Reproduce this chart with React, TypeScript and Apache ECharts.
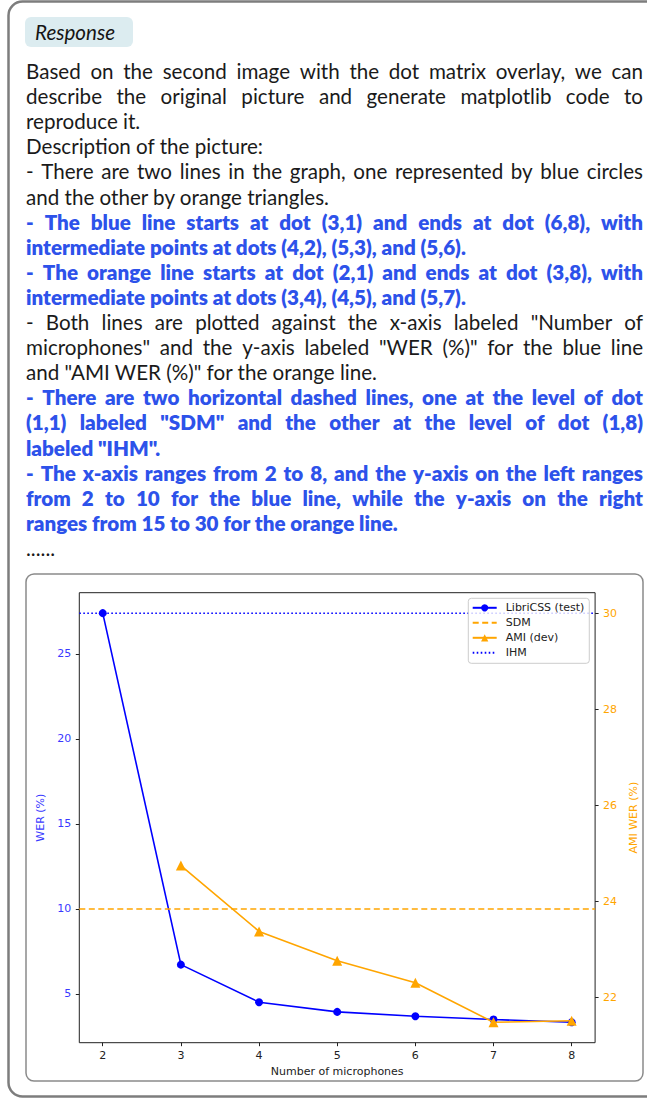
import React, { useEffect, useRef } from "react";
import * as echarts from "echarts";

// ---- chart data ----
const micCounts = [2, 3, 4, 5, 6, 7, 8];
const libriWer = [27.4, 6.72, 4.51, 3.94, 3.68, 3.49, 3.33];
const amiMics = [3, 4, 5, 6, 7, 8];
const amiWer = [24.75, 23.38, 22.77, 22.31, 21.49, 21.52];
const sdmLevel = 10;
const ihmLevel = 30;
const xTicks = [2, 3, 4, 5, 6, 7, 8];
const leftTicks = [5, 10, 15, 20, 25];
const rightTicks = [22, 24, 26, 28, 30];
const seriesNames = ["LibriCSS (test)", "SDM", "AMI (dev)", "IHM"];

// ---- response text (t: text, b: bold blue, j: justified) ----
const responseLines = [
  { t: "Based on the second image with the dot matrix overlay, we can", b: false, j: true },
  { t: "describe the original picture and generate matplotlib code to", b: false, j: true },
  { t: "reproduce it.", b: false, j: false },
  { t: "Description of the picture:", b: false, j: false },
  { t: "- There are two lines in the graph, one represented by blue circles", b: false, j: true },
  { t: "and the other by orange triangles.", b: false, j: false },
  { t: "- The blue line starts at dot (3,1) and ends at dot (6,8), with", b: true, j: true },
  { t: "intermediate points at dots (4,2), (5,3), and (5,6).", b: true, j: false },
  { t: "- The orange line starts at dot (2,1) and ends at dot (3,8), with", b: true, j: true },
  { t: "intermediate points at dots (3,4), (4,5), and (5,7).", b: true, j: false },
  { t: "- Both lines are plotted against the x-axis labeled \"Number of", b: false, j: true },
  { t: "microphones\" and the y-axis labeled \"WER (%)\" for the blue line", b: false, j: true },
  { t: "and \"AMI WER (%)\" for the orange line.", b: false, j: false },
  { t: "- There are two horizontal dashed lines, one at the level of dot", b: true, j: true },
  { t: "(1,1) labeled \"SDM\" and the other at the level of dot (1,8)", b: true, j: true },
  { t: "labeled \"IHM\".", b: true, j: false },
  { t: "- The x-axis ranges from 2 to 8, and the y-axis on the left ranges", b: true, j: true },
  { t: "from 2 to 10 for the blue line, while the y-axis on the right", b: true, j: true },
  { t: "ranges from 15 to 30 for the orange line.", b: true, j: false },
  { t: "......", b: false, j: false },
];

const TEXT_FONT = 'Lato, "Noto Sans", sans-serif';
const CHART_FONT = '"DejaVu Sans", sans-serif';
const BLUE = "#0000ff";
const ORANGE = "#ffa500";

function padRange(vals: number[]) {
  const lo = Math.min(...vals);
  const hi = Math.max(...vals);
  const m = (hi - lo) * 0.05;
  return [lo - m, hi + m];
}

export default function App() {
  const ref = useRef<HTMLDivElement>(null);
  useEffect(() => {
    if (!ref.current) return;
    const chart = echarts.init(ref.current, null, { renderer: "svg" });

    const [xMin, xMax] = padRange(micCounts);
    const [lMin, lMax] = padRange([...libriWer, sdmLevel]);
    const [rMin, rMax] = padRange([...amiWer, ihmLevel]);

    // text layout (justified lines are laid out word by word)
    const canvas = document.createElement("canvas");
    const ctx = canvas.getContext("2d")!;
    const textLeft = 26;
    const textRight = 643;
    const textGraphics: any[] = [];
    responseLines.forEach((ln, i) => {
      const y = 71 + 25.1 * i;
      const weight = ln.b ? "800" : "normal";
      const fill = ln.b ? "#2d52ea" : "#1a1a1a";
      const font = `${weight} 20.6px ${TEXT_FONT}`;
      const base = { fill, font, verticalAlign: "middle", align: "left", lineHeight: 22 };
      if (!ln.j) {
        textGraphics.push({ type: "text", x: textLeft, y, style: { ...base, text: ln.t } });
        return;
      }
      ctx.font = font;
      const words = ln.t.split(" ");
      const widths = words.map((w) => ctx.measureText(w).width);
      const total = widths.reduce((a, b) => a + b, 0);
      const gap = (textRight - textLeft - total) / (words.length - 1);
      let x = textLeft;
      words.forEach((w, k) => {
        textGraphics.push({ type: "text", x, y, style: { ...base, text: w } });
        x += widths[k] + gap;
      });
    });

    const axisLabelBase = { fontFamily: CHART_FONT, fontSize: 11 };

    chart.setOption({
      animation: false,
      backgroundColor: "#ffffff",
      grid: {
        left: 79.3,
        top: 592.7,
        width: 519.7,
        height: 450,
        show: true,
        borderColor: "#222222",
        borderWidth: 1,
        backgroundColor: "transparent",
      },
      legend: {
        orient: "vertical",
        left: 468.3,
        top: 598.3,
        itemWidth: 24,
        itemHeight: 9,
        itemGap: 4,
        padding: [4, 5, 5, 3.4],
        backgroundColor: "rgba(255,255,255,0.8)",
        borderColor: "#cccccc",
        borderWidth: 1,
        borderRadius: 3,
        selectedMode: false,
        textStyle: { fontFamily: CHART_FONT, fontSize: 11, color: "#222222", padding: [0, 0, 0, 4] },
        data: seriesNames,
      },
      xAxis: {
        type: "value",
        min: xMin,
        max: xMax,
        axisLine: { show: false },
        axisTick: { show: true, length: 3.5, customValues: xTicks, lineStyle: { color: "#222222" } },
        axisLabel: { customValues: xTicks, margin: 7, color: "#222222", ...axisLabelBase },
        splitLine: { show: false },
        name: "Number of microphones",
        nameLocation: "middle",
        nameGap: 23,
        nameTextStyle: { color: "#222222", ...axisLabelBase },
      },
      yAxis: [
        {
          type: "value",
          position: "left",
          min: lMin,
          max: lMax,
          axisLine: { show: false },
          axisTick: { show: true, length: 3.5, customValues: leftTicks, lineStyle: { color: "#222222" } },
          axisLabel: { customValues: leftTicks, margin: 8, color: "#3a3aff", ...axisLabelBase },
          splitLine: { show: false },
          name: "WER (%)",
          nameLocation: "middle",
          nameRotate: 90,
          nameGap: 26,
          nameTextStyle: { color: "#3a3aff", ...axisLabelBase },
        },
        {
          type: "value",
          position: "right",
          min: rMin,
          max: rMax,
          axisLine: { show: false },
          axisTick: { show: true, length: 3.5, customValues: rightTicks, lineStyle: { color: "#222222" } },
          axisLabel: { customValues: rightTicks, margin: 8, color: ORANGE, ...axisLabelBase },
          splitLine: { show: false },
          name: "AMI WER (%)",
          nameLocation: "middle",
          nameRotate: 90,
          nameGap: 27,
          nameTextStyle: { color: ORANGE, ...axisLabelBase },
        },
      ],
      series: [
        {
          name: seriesNames[0],
          type: "line",
          yAxisIndex: 0,
          data: micCounts.map((m, i) => [m, libriWer[i]]),
          symbol: "circle",
          symbolSize: 8,
          lineStyle: { color: BLUE, width: 1.6 },
          itemStyle: { color: BLUE },
          z: 2,
        },
        {
          name: seriesNames[1],
          type: "line",
          yAxisIndex: 0,
          data: [[xMin, sdmLevel], [xMax, sdmLevel]],
          symbol: "none",
          lineStyle: { color: ORANGE, width: 1.5, type: [6, 3.5] },
          itemStyle: { color: "rgba(0,0,0,0)" },
          z: 2,
        },
        {
          name: seriesNames[2],
          type: "line",
          yAxisIndex: 1,
          data: amiMics.map((m, i) => [m, amiWer[i]]),
          symbol: "triangle",
          symbolSize: 10,
          lineStyle: { color: ORANGE, width: 1.6 },
          itemStyle: { color: ORANGE },
          z: 3,
        },
        {
          name: seriesNames[3],
          type: "line",
          yAxisIndex: 1,
          data: [[xMin, ihmLevel], [xMax, ihmLevel]],
          symbol: "none",
          lineStyle: { color: BLUE, width: 1.5, type: [1.6, 2.4] },
          itemStyle: { color: "rgba(0,0,0,0)" },
          z: 3,
        },
      ],
      graphic: [
        {
          type: "rect",
          shape: { x: 8.5, y: 1.5, width: 660, height: 1095, r: 14 },
          style: { fill: "none", stroke: "#7d7d7d", lineWidth: 2.5 },
          silent: true,
        },
        {
          type: "rect",
          shape: { x: 26, y: 574, width: 617, height: 507, r: 8 },
          style: { fill: "none", stroke: "#8a8a8a", lineWidth: 1.5 },
          silent: true,
        },
        {
          type: "rect",
          shape: { x: 25, y: 17, width: 108, height: 30, r: 6 },
          style: { fill: "#dcecf0" },
          silent: true,
        },
        {
          type: "text",
          x: 35,
          y: 31.5,
          style: {
            text: "Response",
            fill: "#151515",
            font: `italic normal 20.6px ${TEXT_FONT}`,
            verticalAlign: "middle",
            align: "left",
          },
        },
        ...textGraphics,
      ],
    });
    return () => chart.dispose();
  }, []);
  return (
    <div
      ref={ref}
      style={{ position: "absolute", left: 0, top: 0, width: 647, height: 1099 }}
    />
  );
}
